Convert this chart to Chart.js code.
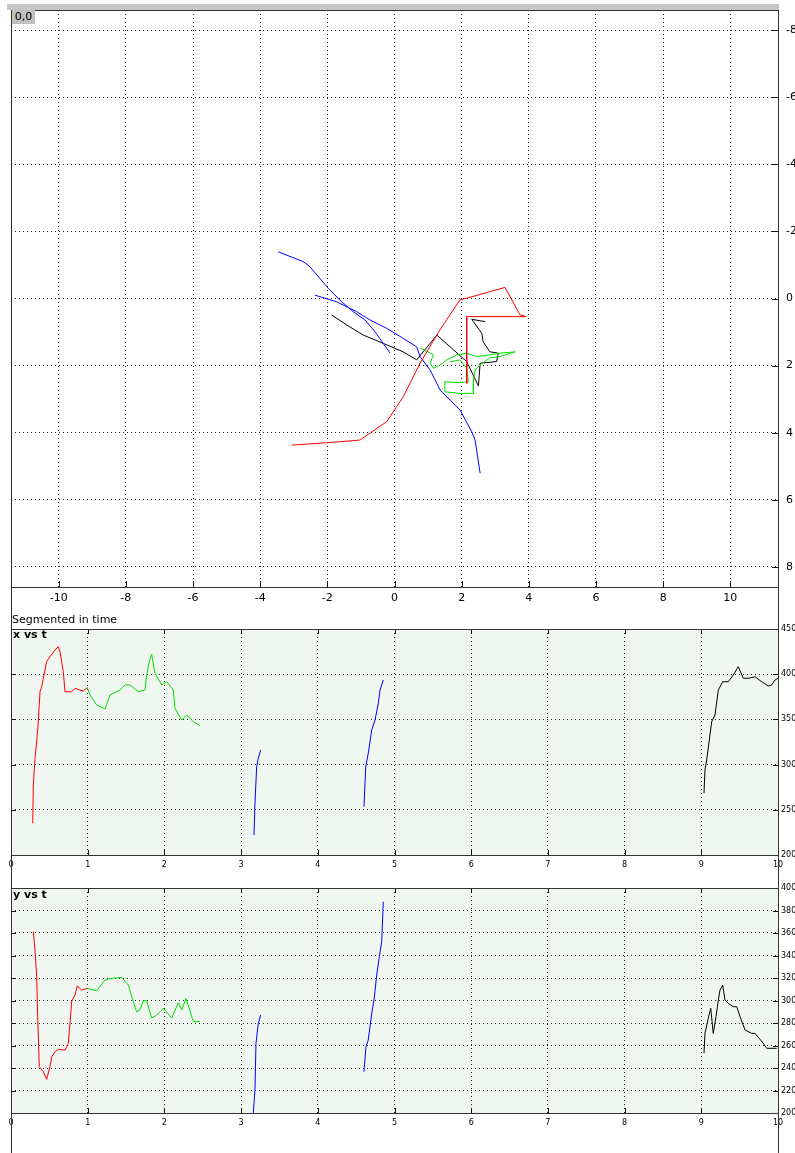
<!DOCTYPE html>
<html>
<head>
<meta charset="utf-8">
<script src="https://cdn.jsdelivr.net/npm/chart.js@4.4.1/dist/chart.umd.min.js"></script>
<style>
  body { margin: 0; background: #fff; width: 795px; height: 1153px; overflow: hidden; position: relative; font-family: "DejaVu Sans", sans-serif; }
  canvas { position: absolute; left: 0; }
  .txt { position: absolute; font-size: 11px; line-height: 13px; color: #000; white-space: nowrap; }
  .bold { font-weight: bold; }
  .vline { position: absolute; top: 10px; width: 1px; height: 1143px; background: #333; }
  #topbar { position: absolute; left: 7px; top: 4px; width: 772px; height: 6px; background: #c6c6c6; }
  #corner { position: absolute; left: 12px; top: 10px; width: 23px; height: 14px; background: #c0c0c0; font-size: 11px; line-height: 14px; text-align: center; }
</style>
</head>
<body>
<canvas id="cXY" width="795" height="615" style="top:0"></canvas>
<canvas id="cXT" width="795" height="260" style="top:615px"></canvas>
<canvas id="cYT" width="795" height="278" style="top:875px"></canvas>
<div id="topbar"></div>
<div class="vline" style="left:11px"></div>
<div class="vline" style="left:778px"></div>
<div id="corner">0,0</div>
<div class="txt" style="left:12px;top:613px">Segmented in time</div>
<div class="txt bold" style="left:13px;top:628px">x vs t</div>
<div class="txt bold" style="left:13px;top:888px">y vs t</div>
<script>
/* ---------- ticks ---------- */
const XY_XTICKS = [-10, -8, -6, -4, -2, 0, 2, 4, 6, 8, 10];
const XY_YTICKS = [-8, -6, -4, -2, 0, 2, 4, 6, 8];
const T_TICKS = [0, 1, 2, 3, 4, 5, 6, 7, 8, 9, 10];
const XT_YTICKS = [200, 250, 300, 350, 400, 450];
const YT_YTICKS = [200, 220, 240, 260, 280, 300, 320, 340, 360, 380, 400];

/* ---------- trajectories (x, y) ---------- */
const redXY = [[-3.06, 4.37], [-2.02, 4.30], [-1.03, 4.22], [-0.23, 3.67], [0.26, 2.93], [0.76, 1.93], [1.35, 0.94], [1.95, 0.04], [2.15, -0.01], [3.29, -0.33], [3.74, 0.49], [3.92, 0.54], [2.15, 0.54], [2.15, 2.53]];
const greenXY = [[0.76, 1.48], [1.00, 1.59], [1.16, 1.68], [1.06, 1.93], [1.16, 2.08], [1.36, 1.98], [1.56, 1.83], [1.85, 1.68], [2.15, 1.63], [2.45, 1.73], [2.84, 1.68], [3.14, 1.63], [3.59, 1.59], [3.14, 1.73], [2.84, 1.77], [2.55, 1.98], [2.40, 2.13], [2.35, 2.43], [2.35, 2.83], [1.95, 2.83], [1.50, 2.78], [1.50, 2.48], [1.95, 2.51], [2.20, 2.48], [2.15, 2.07], [1.95, 1.83], [1.65, 1.89]];
const blueAXY = [[-3.46, -1.39], [-2.72, -1.10], [-2.52, -0.95], [-1.97, -0.30], [-1.57, 0.10], [-1.23, 0.39], [-0.88, 0.64], [-0.58, 0.99], [-0.13, 1.63]];
const blueBXY = [[-2.37, -0.10], [-1.72, 0.10], [-1.13, 0.39], [-0.73, 0.64], [-0.23, 0.89], [0.26, 1.19], [0.66, 1.44], [0.76, 1.73], [1.06, 2.13], [1.36, 2.73], [1.95, 3.32], [2.30, 3.97], [2.40, 4.22], [2.55, 5.21]];
const blackXY = [[-1.87, 0.49], [-1.42, 0.79], [-0.93, 1.09], [-0.33, 1.34], [0.26, 1.59], [0.66, 1.83], [1.26, 1.09], [1.70, 1.48], [2.15, 1.88], [2.50, 2.61], [2.55, 1.93], [3.04, 1.88], [3.09, 1.63], [2.84, 1.59], [2.64, 1.29], [2.60, 1.04], [2.35, 0.69], [2.30, 0.62], [2.70, 0.69]];

/* ---------- x vs t ---------- */
const redXT = [[0.283, 235.1], [0.291, 277.4], [0.313, 307.0], [0.335, 325.3], [0.356, 347.5], [0.378, 380.6], [0.400, 386.2], [0.421, 395.5], [0.443, 404.6], [0.465, 413.8], [0.508, 419.4], [0.574, 426.8], [0.617, 430.4], [0.639, 424.9], [0.682, 402.8], [0.704, 380.6], [0.791, 380.6], [0.834, 384.4], [0.899, 382.5], [0.943, 381.4], [0.995, 385.1]];
const greenXT = [[0.995, 385.1], [1.030, 377.0], [1.117, 365.9], [1.226, 361.5], [1.291, 377.0], [1.421, 382.5], [1.486, 388.1], [1.551, 388.1], [1.660, 380.6], [1.747, 382.5], [1.769, 399.1], [1.803, 413.8], [1.834, 422.0], [1.877, 401.0], [1.965, 388.1], [2.030, 391.7], [2.116, 382.5], [2.138, 362.3], [2.226, 349.3], [2.291, 354.9], [2.377, 347.5], [2.464, 343.0]];
const blueAXT = [[3.168, 222.1], [3.181, 257.2], [3.203, 297.7], [3.224, 307.0], [3.256, 316.2]];
const blueBXT = [[4.602, 253.4], [4.625, 297.7], [4.658, 312.5], [4.703, 338.3], [4.746, 349.3], [4.789, 367.8], [4.811, 382.5], [4.854, 393.6]];
const blackXT = [[9.035, 268.3], [9.048, 294.0], [9.070, 305.1], [9.136, 347.5], [9.179, 354.9], [9.222, 382.5], [9.279, 391.7], [9.352, 391.7], [9.417, 399.1], [9.482, 408.3], [9.548, 395.5], [9.613, 395.5], [9.700, 397.2], [9.787, 391.7], [9.874, 386.9], [9.918, 388.1], [9.961, 393.6], [10.0, 395.5]];

/* ---------- y vs t ---------- */
const redYT = [[0.291, 361.2], [0.313, 344.9], [0.335, 321.2], [0.348, 285.6], [0.369, 241.2], [0.421, 236.7], [0.465, 229.9], [0.508, 241.2], [0.531, 250.0], [0.574, 254.5], [0.617, 256.6], [0.704, 256.0], [0.747, 261.9], [0.769, 279.7], [0.791, 298.9], [0.834, 304.9], [0.864, 312.9], [0.922, 309.3], [0.995, 310.8]];
const greenYT = [[0.995, 310.8], [1.117, 308.7], [1.226, 318.2], [1.313, 319.7], [1.443, 320.6], [1.529, 313.8], [1.595, 298.9], [1.639, 289.8], [1.682, 291.8], [1.725, 299.8], [1.769, 299.8], [1.834, 284.2], [1.900, 287.1], [1.986, 293.1], [2.095, 284.2], [2.181, 298.0], [2.226, 291.6], [2.282, 302.0], [2.377, 281.2], [2.464, 281.2]];
const blueAYT = [[3.159, 199.7], [3.181, 220.4], [3.194, 261.9], [3.224, 279.7], [3.256, 287.1]];
const blueBYT = [[4.602, 236.7], [4.628, 258.9], [4.658, 264.9], [4.703, 288.6], [4.733, 300.4], [4.768, 322.7], [4.802, 338.9], [4.833, 352.3], [4.854, 387.8]];
const blackYT = [[9.035, 253.1], [9.048, 270.8], [9.091, 284.2], [9.123, 293.1], [9.156, 270.8], [9.192, 285.6], [9.222, 300.4], [9.244, 309.3], [9.279, 313.8], [9.309, 300.4], [9.352, 297.5], [9.417, 294.5], [9.462, 294.5], [9.505, 285.6], [9.570, 273.8], [9.657, 270.8], [9.700, 270.8], [9.808, 261.9], [9.853, 257.5], [9.983, 257.5]];

const RED = '#ff0000', GREEN = '#00e000', BLUE = '#0000ff', BLACK = '#000000';

// ---------- plugin: panel background, frame, inward ticks ----------
const panel = {
  id: 'panel',
  beforeDraw(chart, args, o) {
    if (!o.bg) return;
    const a = chart.chartArea, ctx = chart.ctx;
    ctx.save();
    ctx.fillStyle = o.bg;
    ctx.fillRect(a.left, a.top, a.right - a.left, a.bottom - a.top);
    ctx.restore();
  },
  afterDraw(chart, args, o) {
    const a = chart.chartArea, ctx = chart.ctx, sx = chart.scales.x, sy = chart.scales.y, L = o.len || 5;
    const s = o.sides || {};
    ctx.save();
    ctx.strokeStyle = '#111';
    ctx.lineWidth = 1;
    ctx.beginPath();
    sx.ticks.forEach((t) => {
      const x = Math.round(sx.getPixelForValue(t.value)) + 0.5;
      if (s.bottom) { ctx.moveTo(x, a.bottom); ctx.lineTo(x, a.bottom - L); }
      if (s.top) { ctx.moveTo(x, a.top); ctx.lineTo(x, a.top + L); }
    });
    sy.ticks.forEach((t) => {
      const y = Math.round(sy.getPixelForValue(t.value)) + 0.5;
      if (s.right) { ctx.moveTo(a.right, y); ctx.lineTo(a.right - L, y); }
      if (s.left) { ctx.moveTo(a.left, y); ctx.lineTo(a.left + L, y); }
    });
    ctx.stroke();
    ctx.strokeStyle = '#333';
    ctx.strokeRect(Math.round(a.left) + 0.5, Math.round(a.top) + 0.5, Math.round(a.right - a.left), Math.round(a.bottom - a.top));
    ctx.restore();
  },
};

// ---------- helpers ----------
function ds(pts, color) {
  return { data: pts.map((p) => ({ x: p[0], y: p[1] })), borderColor: color, backgroundColor: color, borderWidth: 1, pointRadius: 0, showLine: true, tension: 0 };
}
function axis(min, max, vals, o) {
  return {
    type: 'linear', min, max, reverse: !!o.reverse, position: o.pos,
    afterBuildTicks: (sc) => { sc.ticks = vals.map((v) => ({ value: v })); },
    afterFit: (sc) => {
      if (o.w != null) sc.width = o.w;
      if (o.h != null) sc.height = o.h;
      sc.paddingTop = sc.paddingBottom = sc.paddingLeft = sc.paddingRight = 0;
    },
    grid: { color: '#222', lineWidth: 1, drawTicks: false },
    border: { display: false, dash: [1, 3] },
    ticks: { color: '#000', padding: o.pad, autoSkip: false, maxRotation: 0, font: { family: 'DejaVu Sans', size: o.fs } },
  };
}
function make(id, datasets, xs, ys, pad, pl) {
  return new Chart(document.getElementById(id), {
    type: 'scatter',
    data: { datasets },
    options: {
      responsive: false, animation: false, devicePixelRatio: 1,
      layout: { padding: pad, autoPadding: false },
      plugins: { legend: { display: false }, tooltip: { enabled: false }, panel: pl },
      scales: { x: xs, y: ys },
    },
    plugins: [panel],
  });
}

// ---------- chart XY ----------
make('cXY',
  [ds(redXY, RED), ds(greenXY, GREEN), ds(blueAXY, BLUE), ds(blueBXY, BLUE), ds(blackXY, BLACK)],
  axis(-11.42, 11.42, XY_XTICKS, { pos: 'bottom', h: 28, pad: 5, fs: 11 }),
  axis(-8.6, 8.6, XY_YTICKS, { pos: 'right', w: 17, pad: 8, fs: 11, reverse: true }),
  { left: 11, top: 10, right: 0, bottom: 0 },
  { sides: { bottom: true, right: true }, len: 6 });

// ---------- chart x vs t ----------
make('cXT',
  [ds(redXT, RED), ds(greenXT, GREEN), ds(blueAXT, BLUE), ds(blueBXT, BLUE), ds(blackXT, BLACK)],
  axis(0, 10, T_TICKS, { pos: 'bottom', h: 20, pad: 5, fs: 8 }),
  axis(200, 450, XT_YTICKS, { pos: 'right', w: 17, pad: 3, fs: 8 }),
  { left: 11, top: 14, right: 0, bottom: 0 },
  { bg: '#f0f6f0', sides: { bottom: true, top: true, left: true, right: true }, len: 5 });

// ---------- chart y vs t ----------
make('cYT',
  [ds(redYT, RED), ds(greenYT, GREEN), ds(blueAYT, BLUE), ds(blueBYT, BLUE), ds(blackYT, BLACK)],
  axis(0, 10, T_TICKS, { pos: 'bottom', h: 40, pad: 5, fs: 8 }),
  axis(200, 400, YT_YTICKS, { pos: 'right', w: 17, pad: 3, fs: 8 }),
  { left: 11, top: 13, right: 0, bottom: 0 },
  { bg: '#f0f6f0', sides: { bottom: true, top: true, left: true, right: true }, len: 5 });
</script>
</body>
</html>
